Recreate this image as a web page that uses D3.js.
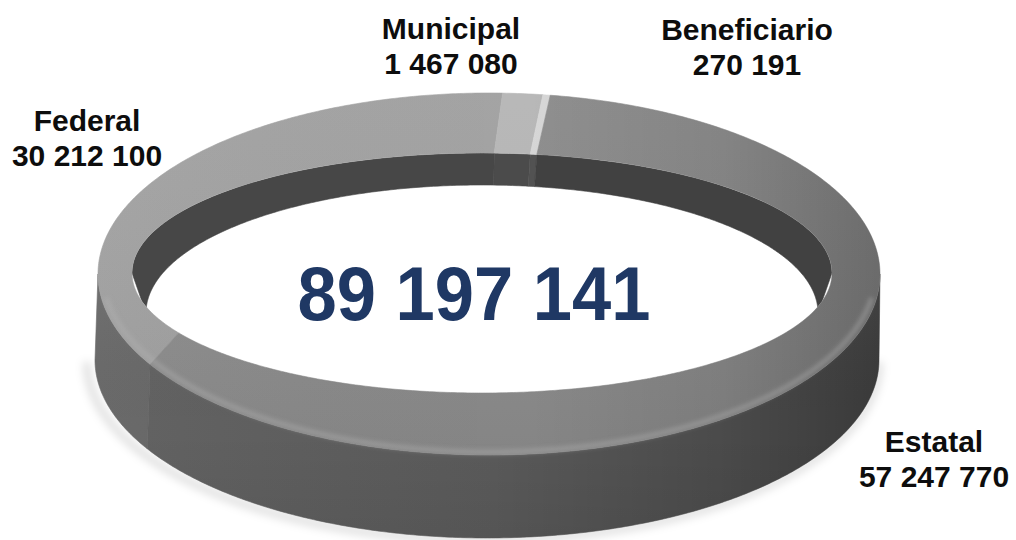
<!DOCTYPE html>
<html>
<head>
<meta charset="utf-8">
<script src="https://cdn.jsdelivr.net/npm/d3@7"></script>
<style>
  body { margin: 0; background: #fff; }
  svg { display: block; }
</style>
</head>
<body>
<div id="chart"></div>
<script>
// data
const categories = ["Federal", "Municipal", "Beneficiario", "Estatal"];
const values = [30212100, 1467080, 270191, 57247770];
const valueLabels = ["30 212 100", "1 467 080", "270 191", "57 247 770"];
const totalLabel = "89 197 141";

// colours per slice
const topColors = ["#a1a1a1", "#b6b6b6", "#d6d6d6", "#8c8c8c"];
const sideColors = ["#646464", "#6e6e6e", "#7a7a7a", "#5d5d5d"];
const innerColors = ["#474747", "#4b4b4b", "#525252", "#414141"];

const width = 1016, height = 540;

const svg = d3.select("#chart").append("svg")
    .attr("width", width)
    .attr("height", height);

// ellipses of the ring (top face and bottom edges, hand-fitted perspective)
const outerTop = {cx: 489, cy: 274, rx: 391, ry: 181};
const innerTop = {cx: 482, cy: 273, rx: 350, ry: 120};
const outerBot = {cx: 487, cy: 360, rx: 392, ry: 178};
const innerBot = {cx: 482, cy: 313, rx: 336, ry: 128};

const pt = (e, a) => [e.cx + e.rx * Math.sin(a), e.cy - e.ry * Math.cos(a)];
function arcPts(e, a0, a1) {
  const n = Math.max(2, Math.ceil(Math.abs(a1 - a0) / 0.01));
  return d3.range(n + 1).map(i => pt(e, a0 + (a1 - a0) * i / n));
}
const line = d3.line();
const band = (e1, e2, a0, a1) => line(arcPts(e1, a0, a1).concat(arcPts(e2, a1, a0))) + "Z";

// part of [a0,a1] inside [lo,hi] (mod 2pi)
function clipRange(a0, a1, lo, hi) {
  const out = [];
  for (let k = -1; k <= 1; k++) {
    const s = Math.max(a0, lo + 2 * Math.PI * k), e = Math.min(a1, hi + 2 * Math.PI * k);
    if (s < e) out.push([s, e]);
  }
  return out;
}

const total = d3.sum(values);
// Federal ends just right of 12 o'clock
const start = 2 * Math.PI / 180 - 2 * Math.PI * values[0] / total;
const pie = d3.pie().sort(null).value(d => d.value)
    .startAngle(start).endAngle(start + 2 * Math.PI);
const arcs = pie(categories.map((c, i) => ({name: c, value: values[i], i: i})));

const defs = svg.append("defs");
defs.append("filter").attr("id", "blur4").attr("x", "-10%").attr("y", "-10%").attr("width", "120%").attr("height", "120%")
  .append("feGaussianBlur").attr("stdDeviation", 4);
defs.append("filter").attr("id", "blur2")
  .append("feGaussianBlur").attr("stdDeviation", 2.2);

function grad(id, x1, y1, x2, y2, stops) {
  const g = defs.append("linearGradient").attr("id", id)
    .attr("gradientUnits", "userSpaceOnUse")
    .attr("x1", x1).attr("y1", y1).attr("x2", x2).attr("y2", y2);
  stops.forEach(s => g.append("stop").attr("offset", s[0]).attr("stop-color", s[1]).attr("stop-opacity", s[2]));
}
grad("topShadeX", 98, 0, 880, 0, [[0, "#fff", 0.03], [0.55, "#000", 0], [0.8, "#000", 0.08], [1, "#000", 0.24]]);
grad("topShadeY", 0, 93, 0, 455, [[0, "#fff", 0.03], [1, "#000", 0.05]]);
grad("sideShadeX", 95, 0, 880, 0, [[0, "#fff", 0.04], [0.5, "#000", 0.03], [0.8, "#000", 0.2], [1, "#000", 0.38]]);
grad("sideShadeY", 0, 274, 0, 538, [[0, "#fff", 0.05], [0.6, "#000", 0], [1, "#000", 0.06]]);

defs.append("clipPath").attr("id", "hole")
  .append("ellipse")
    .attr("cx", innerTop.cx).attr("cy", innerTop.cy)
    .attr("rx", innerTop.rx).attr("ry", innerTop.ry);

// soft shadow under the front edge
svg.append("path")
    .attr("d", line(arcPts({cx: outerBot.cx - 4, cy: outerBot.cy + 2, rx: outerBot.rx + 4, ry: outerBot.ry}, Math.PI / 2, 3 * Math.PI / 2)))
    .attr("fill", "none")
    .attr("stroke", "#000")
    .attr("stroke-opacity", 0.12)
    .attr("stroke-width", 8)
    .attr("filter", "url(#blur4)");

// outer side wall, front half
const sides = svg.append("g").attr("class", "sides");
arcs.forEach(d => {
  clipRange(d.startAngle, d.endAngle, Math.PI / 2, 3 * Math.PI / 2).forEach(r => {
    sides.append("path")
      .attr("d", band(outerTop, outerBot, r[0], r[1]))
      .attr("fill", sideColors[d.data.i])
      .attr("stroke", sideColors[d.data.i])
      .attr("stroke-width", 0.6);
  });
});
const sideAll = band(outerTop, outerBot, Math.PI / 2, 3 * Math.PI / 2);
sides.append("path").attr("d", sideAll).attr("fill", "url(#sideShadeX)");
sides.append("path").attr("d", sideAll).attr("fill", "url(#sideShadeY)");

// inner wall seen through the hole, back half
const inner = svg.append("g").attr("clip-path", "url(#hole)");
arcs.forEach(d => {
  clipRange(d.startAngle, d.endAngle, -Math.PI / 2, Math.PI / 2).forEach(r => {
    inner.append("path")
      .attr("d", band(innerTop, innerBot, r[0], r[1]))
      .attr("fill", innerColors[d.data.i])
      .attr("stroke", innerColors[d.data.i])
      .attr("stroke-width", 0.6);
  });
});

// top face
const topG = svg.append("g").attr("class", "top");
arcs.forEach(d => {
  topG.append("path")
    .attr("d", band(outerTop, innerTop, d.startAngle, d.endAngle))
    .attr("fill", topColors[d.data.i])
    .attr("stroke", topColors[d.data.i])
    .attr("stroke-width", 0.6);
});
const ringAll = band(outerTop, innerTop, 0, 2 * Math.PI);
topG.append("path").attr("d", ringAll).attr("fill", "url(#topShadeX)");
topG.append("path").attr("d", ringAll).attr("fill", "url(#topShadeY)");

// soft light bevel along the front edge of the top face
svg.append("path")
    .attr("d", line(arcPts({cx: outerTop.cx, cy: outerTop.cy - 3, rx: outerTop.rx - 4, ry: outerTop.ry}, 1.72, 2 * Math.PI - 1.72)))
    .attr("fill", "none")
    .attr("stroke", "#b4b4b4")
    .attr("stroke-opacity", 0.4)
    .attr("stroke-width", 5)
    .attr("filter", "url(#blur2)");

// labels
const labelPos = {
  Federal: [87, 131],
  Municipal: [451, 39],
  Beneficiario: [747, 40],
  Estatal: [934, 452]
};
const labels = svg.append("g")
    .attr("font-family", "'Liberation Sans', Arial, sans-serif")
    .attr("font-weight", "bold")
    .attr("font-size", 30)
    .attr("fill", "#0d0d0d")
    .attr("text-anchor", "middle");
categories.forEach((c, i) => {
  const p = labelPos[c];
  labels.append("text").attr("x", p[0]).attr("y", p[1]).text(c);
  labels.append("text").attr("x", p[0]).attr("y", p[1] + 35).text(valueLabels[i]);
});

svg.append("text")
    .attr("x", 474)
    .attr("y", 320)
    .attr("text-anchor", "middle")
    .attr("font-family", "'Liberation Sans', Arial, sans-serif")
    .attr("font-weight", "bold")
    .attr("font-size", 76)
    .attr("textLength", 353)
    .attr("lengthAdjust", "spacingAndGlyphs")
    .attr("fill", "#1f3864")
    .text(totalLabel);
</script>
</body>
</html>
